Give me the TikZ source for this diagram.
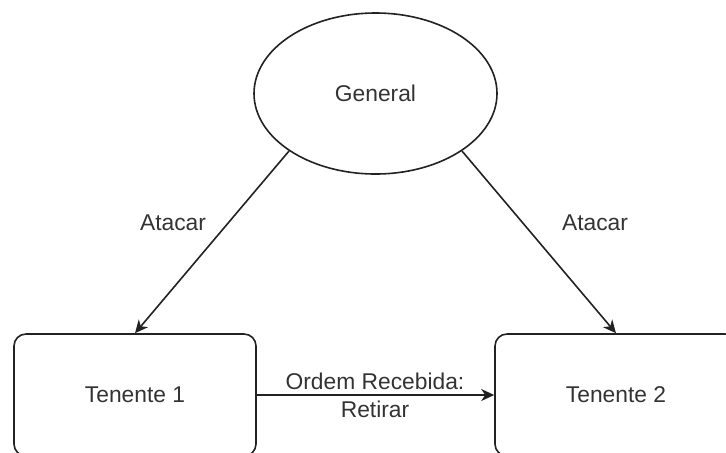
\documentclass[tikz,border=0pt]{standalone}
\usepackage{fontspec}
\setmainfont{Liberation Sans}
\usetikzlibrary{shapes.geometric,arrows.meta}
\definecolor{ink}{HTML}{222222}
\definecolor{txt}{HTML}{333333}
\begin{document}
\begin{tikzpicture}[x=0.5pt,y=-0.5pt,
  every node/.style={font=\fontsize{11.4}{14}\selectfont, text=txt},
  rolebox/.style={draw=ink, line width=0.8pt, rectangle, rounded corners=6pt,
    minimum width=121pt, minimum height=61pt, inner sep=0pt},
  chief/.style={draw=ink, line width=0.8pt, ellipse,
    minimum width=121.5pt, minimum height=80.5pt, inner sep=0pt},
  link/.style={draw=ink, line width=0.8pt, -{Stealth[length=6.5pt,width=6pt,inset=2pt]}},
  tag/.style={inner sep=0pt, align=center}]
  \useasboundingbox (0,0) rectangle (726,452);
  \clip (0,0) rectangle (726,452);

  % the commander and the two lieutenants
  \node[chief] (gen) at (375.5,93.5) {General};
  \node[rolebox] (t1) at (135,395) {Tenente 1};
  \node[rolebox] (t2) at (616,395) {Tenente 2};

  % orders
  \draw[link] (gen.south west) -- (t1.north);
  \draw[link] (gen.south east) -- (t2.north);
  \draw[link] (t1.east) -- (t2.west);

  % connector labels
  \node[tag] (la) at (173,223) {Atacar};
  \node[tag] (ra) at (595,223) {Atacar};
  \node[tag] (mid) at (375,395) {Ordem Recebida:\\Retirar};
\end{tikzpicture}
\end{document}
